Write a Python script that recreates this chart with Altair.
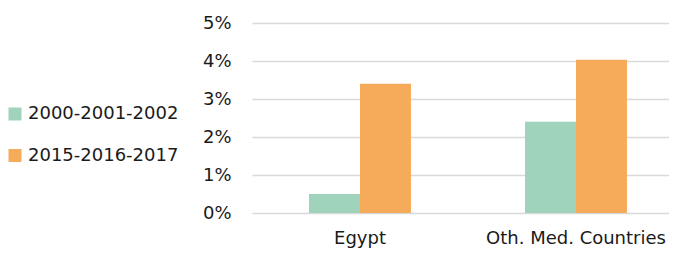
import altair as alt
import pandas as pd

categories = ["Egypt", "Oth. Med. Countries"]
series = ["2000-2001-2002", "2015-2016-2017"]
values_2000 = [0.005, 0.024]
values_2015 = [0.034, 0.0403]
colors = ["#A0D3BB", "#F6AB5A"]
y_ticks = [0, 0.01, 0.02, 0.03, 0.04, 0.05]

rows = []
for i, c in enumerate(categories):
    rows.append({"cat": c, "period": series[0], "v": values_2000[i]})
    rows.append({"cat": c, "period": series[1], "v": values_2015[i]})
df = pd.DataFrame(rows)

FONT = "DejaVu Sans"
TXT = "#1A1A1A"
FS = 18

chart = alt.Chart(df).mark_bar().encode(
    x=alt.X("cat:N", sort=categories, title=None,
            scale=alt.Scale(range=[0, 432], paddingInner=0.528, paddingOuter=0.264),
            axis=alt.Axis(labelAngle=0, ticks=False, domain=False, labelPadding=30,
                          labelBaseline="alphabetic",
                          labelFontSize=FS, labelFont=FONT, labelColor=TXT, grid=False)),
    xOffset=alt.XOffset("period:N", sort=series,
                        scale=alt.Scale(paddingInner=0, paddingOuter=0)),
    y=alt.Y("v:Q", scale=alt.Scale(domain=[0, 0.05], nice=False), title=None,
            axis=alt.Axis(values=y_ticks, format=".0%", ticks=False, domain=False,
                          labelPadding=21, labelFontSize=FS, labelFont=FONT,
                          labelColor=TXT, gridColor="#D9D9D9", gridWidth=1.5)),
    color=alt.Color("period:N", sort=series, title=None,
                    scale=alt.Scale(domain=series, range=colors),
                    legend=alt.Legend(orient="none", legendX=-246, legendY=82,
                                      symbolType="square", symbolSize=169,
                                      symbolStrokeWidth=0, labelFontSize=FS,
                                      labelFont=FONT, labelColor=TXT, rowPadding=23.5,
                                      labelOffset=4, padding=0)),
).properties(
    width=417, height=190,
    autosize=alt.AutoSizeParams(type="none"),
    padding={"left": 244, "right": 0, "top": 15, "bottom": 35},
).configure_view(stroke=None)

chart.save("out.html", embed_options={"renderer": "svg", "actions": False})
